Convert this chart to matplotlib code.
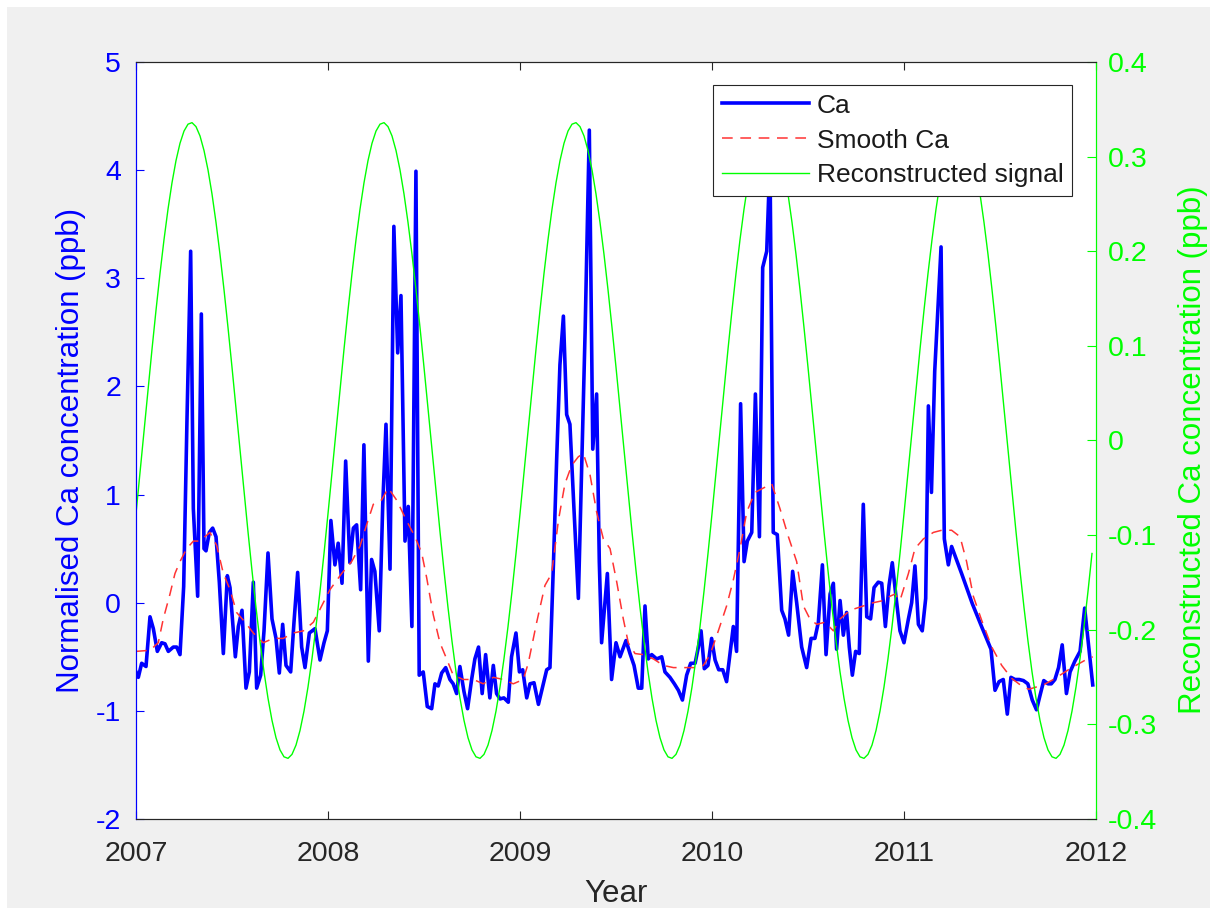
import numpy as np
import matplotlib
matplotlib.use('Agg')
import matplotlib.pyplot as plt
from matplotlib.patches import Rectangle

plt.rcParams['font.family'] = ['Liberation Sans', 'DejaVu Sans']
plt.rcParams['axes.unicode_minus'] = False

# ---------------- data ----------------
# Ca: time in years since 2007-01-01, normalised concentration (ppb)
ca_t = [0.0000, 0.0121, 0.0295, 0.0521, 0.0729, 0.0903, 0.1111, 0.1337, 0.1510, 0.1684,
        0.1944, 0.2118, 0.2292, 0.2483, 0.2656, 0.2847, 0.2986, 0.3212, 0.3403, 0.3542,
        0.3646, 0.3819, 0.3993, 0.4167, 0.4340, 0.4549, 0.4757, 0.4896, 0.5174, 0.5330,
        0.5521, 0.5729, 0.5903, 0.6111, 0.6285, 0.6493, 0.6667, 0.6875, 0.7083, 0.7292,
        0.7465, 0.7639, 0.7813, 0.8056, 0.8229, 0.8420, 0.8628, 0.8802, 0.9028, 0.9323,
        0.9583, 0.9792, 0.9965,
        1.015, 1.036, 1.053, 1.073, 1.092, 1.114, 1.132, 1.149, 1.170, 1.187,
        1.210, 1.227, 1.244, 1.267, 1.285, 1.302, 1.323, 1.343, 1.363, 1.380,
        1.401, 1.418, 1.437, 1.458, 1.475, 1.496, 1.517, 1.540, 1.557, 1.574,
        1.592, 1.613, 1.635, 1.652, 1.670, 1.687, 1.708, 1.727, 1.748, 1.765,
        1.784, 1.803, 1.821, 1.843, 1.861, 1.878, 1.896, 1.916, 1.939,
        1.956, 1.979, 1.997, 2.014, 2.035, 2.052, 2.073, 2.096, 2.116, 2.139,
        2.156, 2.174, 2.191, 2.208, 2.226, 2.243, 2.260, 2.281, 2.304, 2.321,
        2.339, 2.361, 2.379, 2.399, 2.413, 2.425, 2.455, 2.477, 2.500, 2.521,
        2.552, 2.573, 2.594, 2.616, 2.634, 2.651, 2.668, 2.686, 2.712, 2.738,
        2.755, 2.781, 2.804, 2.825, 2.846, 2.868, 2.889, 2.912, 2.929,
        2.943, 2.960, 2.979, 2.998, 3.016, 3.035, 3.056, 3.076, 3.094, 3.111,
        3.128, 3.149, 3.167, 3.184, 3.207, 3.226, 3.247, 3.264, 3.285, 3.302,
        3.319, 3.340, 3.363, 3.380, 3.399, 3.420, 3.441, 3.467, 3.493, 3.516,
        3.536, 3.554, 3.575, 3.594, 3.615, 3.632, 3.649, 3.667, 3.684, 3.701,
        3.715, 3.731, 3.748, 3.767, 3.788, 3.806, 3.826, 3.844, 3.866, 3.884,
        3.903, 3.922, 3.939, 3.958, 3.979, 4.000, 4.023, 4.040, 4.057, 4.075,
        4.095, 4.113, 4.127, 4.143, 4.160, 4.193, 4.210, 4.231, 4.248, 4.300,
        4.356, 4.404, 4.453, 4.474, 4.495, 4.517, 4.538, 4.557, 4.578, 4.600,
        4.622, 4.645, 4.668, 4.690, 4.708, 4.728, 4.750, 4.767, 4.786, 4.805,
        4.824, 4.846, 4.865, 4.890, 4.917, 4.941, 4.983]
ca_vals = [-0.64, -0.69, -0.56, -0.59, -0.13, -0.24, -0.45, -0.37, -0.38, -0.45,
           -0.41, -0.41, -0.48, 0.15, 1.70, 3.25, 0.87, 0.06, 2.67, 0.50,
           0.48, 0.65, 0.69, 0.61, 0.19, -0.47, 0.25, 0.14, -0.50, -0.22,
           -0.07, -0.79, -0.64, 0.19, -0.79, -0.67, -0.26, 0.46, -0.15, -0.33,
           -0.65, -0.20, -0.58, -0.64, -0.18, 0.28, -0.41, -0.60, -0.28, -0.24,
           -0.53, -0.37, -0.26,
           0.76, 0.35, 0.55, 0.18, 1.31, 0.37, 0.69, 0.72, 0.12, 1.46,
           -0.54, 0.40, 0.29, -0.26, 0.90, 1.65, 0.31, 3.48, 2.31, 2.84,
           0.57, 0.89, -0.22, 3.99, -0.67, -0.64, -0.96, -0.98, -0.75, -0.77,
           -0.65, -0.60, -0.71, -0.75, -0.84, -0.59, -0.82, -0.98, -0.71, -0.52,
           -0.41, -0.84, -0.48, -0.88, -0.58, -0.84, -0.89, -0.88, -0.92,
           -0.50, -0.28, -0.64, -0.62, -0.88, -0.75, -0.74, -0.94, -0.79, -0.62,
           -0.60, 0.35, 1.33, 2.20, 2.65, 1.74, 1.65, 0.87, 0.04, 1.25,
           2.50, 4.37, 1.42, 1.93, 0.38, -0.37, 0.27, -0.71, -0.37, -0.50,
           -0.35, -0.47, -0.58, -0.79, -0.79, -0.03, -0.52, -0.48, -0.52, -0.50,
           -0.64, -0.69, -0.75, -0.81, -0.90, -0.67, -0.56, -0.56, -0.41,
           -0.26, -0.61, -0.58, -0.33, -0.53, -0.62, -0.62, -0.73, -0.47, -0.22,
           -0.45, 1.84, 0.38, 0.57, 0.65, 1.93, 0.61, 3.10, 3.25, 4.10,
           0.65, 0.63, -0.07, -0.15, -0.30, 0.29, 0.00, -0.41, -0.60, -0.33,
           -0.33, -0.18, 0.35, -0.48, 0.08, 0.18, -0.43, 0.02, -0.30, -0.09,
           -0.41, -0.67, -0.45, -0.47, 0.91, -0.13, -0.15, 0.14, 0.19, 0.18,
           -0.22, 0.16, 0.37, 0.06, -0.26, -0.37, -0.15, 0.00, 0.34, -0.20,
           -0.26, 0.04, 1.82, 1.02, 2.14, 3.29, 0.59, 0.35, 0.52, 0.27,
           -0.01, -0.22, -0.43, -0.81, -0.73, -0.71, -1.03, -0.69, -0.71, -0.71,
           -0.72, -0.75, -0.90, -0.99, -0.86, -0.72, -0.75, -0.75, -0.71, -0.60,
           -0.39, -0.84, -0.64, -0.54, -0.45, -0.05, -0.76]

# Smoothed Ca (same units)
smooth_t = [0.000, 0.073, 0.116, 0.142, 0.177, 0.203, 0.229, 0.264, 0.299, 0.333,
            0.385, 0.420, 0.455, 0.490, 0.524, 0.568, 0.611, 0.663, 0.715, 0.767,
            0.819, 0.872, 0.924, 0.967, 1.010, 1.071, 1.123, 1.166, 1.201, 1.236,
            1.279, 1.314, 1.357, 1.409, 1.453, 1.488, 1.514, 1.548, 1.583, 1.618,
            1.652, 1.705, 1.757, 1.809, 1.861, 1.913, 1.965, 2.017, 2.043, 2.087,
            2.130, 2.165, 2.200, 2.234, 2.269, 2.304, 2.330, 2.365, 2.399, 2.434,
            2.469, 2.504, 2.538, 2.564, 2.599, 2.642, 2.695, 2.747, 2.799, 2.851,
            2.912, 2.955, 2.990, 3.033, 3.076, 3.111, 3.146, 3.181, 3.224, 3.267,
            3.311, 3.354, 3.398, 3.441, 3.476, 3.510, 3.545, 3.589, 3.632, 3.667,
            3.719, 3.788, 3.840, 3.892, 3.927, 3.953, 3.979, 4.023, 4.057, 4.101,
            4.153, 4.196, 4.248, 4.292, 4.326, 4.361, 4.404, 4.457, 4.509, 4.561,
            4.613, 4.650, 4.726, 4.778, 4.865, 4.955, 4.983]
smooth_vals = [-0.45, -0.44, -0.37, -0.15, 0.08, 0.27, 0.38, 0.50, 0.57, 0.57,
               0.65, 0.53, 0.27, 0.12, -0.09, -0.18, -0.28, -0.37, -0.33, -0.33,
               -0.28, -0.26, -0.18, -0.03, 0.12, 0.27, 0.38, 0.52, 0.72, 0.91,
               0.95, 1.06, 0.95, 0.76, 0.61, 0.46, 0.23, -0.11, -0.37, -0.52,
               -0.67, -0.71, -0.71, -0.75, -0.69, -0.71, -0.75, -0.71, -0.56, -0.18,
               0.16, 0.27, 0.76, 1.10, 1.27, 1.35, 1.38, 1.18, 0.84, 0.59,
               0.50, 0.19, -0.15, -0.37, -0.47, -0.48, -0.52, -0.58, -0.60, -0.60,
               -0.60, -0.58, -0.48, -0.26, -0.03, 0.21, 0.50, 0.84, 1.02, 1.06,
               1.10, 0.87, 0.61, 0.38, -0.03, -0.15, -0.20, -0.18, -0.26, -0.15,
               -0.07, -0.03, 0.00, 0.02, 0.06, 0.08, 0.02, 0.27, 0.50, 0.59,
               0.65, 0.67, 0.67, 0.61, 0.38, 0.06, -0.16, -0.41, -0.58, -0.70,
               -0.77, -0.80, -0.76, -0.71, -0.61, -0.52, -0.50]

# Reconstructed signal (right axis), one value every 1/48 year from 2007.0
recon_step = 1 / 48
recon_vals = [
    -0.0774, -0.0341, 0.0098, 0.0536, 0.0964, 0.1376, 0.1765, 0.2122, 0.2444, 0.2724, 0.2958, 0.3141,
    0.3270, 0.3343, 0.3359, 0.3317, 0.3219, 0.3065, 0.2860, 0.2605, 0.2305, 0.1967, 0.1594, 0.1194,
    0.0774, 0.0341, -0.0098, -0.0536, -0.0964, -0.1376, -0.1765, -0.2122, -0.2444, -0.2724, -0.2958, -0.3141,
    -0.3270, -0.3343, -0.3359, -0.3317, -0.3219, -0.3065, -0.2860, -0.2605, -0.2305, -0.1967, -0.1594, -0.1194,
    -0.0774, -0.0341, 0.0098, 0.0536, 0.0964, 0.1376, 0.1765, 0.2122, 0.2444, 0.2724, 0.2958, 0.3141,
    0.3270, 0.3343, 0.3359, 0.3317, 0.3219, 0.3065, 0.2860, 0.2605, 0.2305, 0.1967, 0.1594, 0.1194,
    0.0774, 0.0341, -0.0098, -0.0536, -0.0964, -0.1376, -0.1765, -0.2122, -0.2444, -0.2724, -0.2958, -0.3141,
    -0.3270, -0.3343, -0.3359, -0.3317, -0.3219, -0.3065, -0.2860, -0.2605, -0.2305, -0.1967, -0.1594, -0.1194,
    -0.0774, -0.0341, 0.0098, 0.0536, 0.0964, 0.1376, 0.1765, 0.2122, 0.2444, 0.2724, 0.2958, 0.3141,
    0.3270, 0.3343, 0.3359, 0.3317, 0.3219, 0.3065, 0.2860, 0.2605, 0.2305, 0.1967, 0.1594, 0.1194,
    0.0774, 0.0341, -0.0098, -0.0536, -0.0964, -0.1376, -0.1765, -0.2122, -0.2444, -0.2724, -0.2958, -0.3141,
    -0.3270, -0.3343, -0.3359, -0.3317, -0.3219, -0.3065, -0.2860, -0.2605, -0.2305, -0.1967, -0.1594, -0.1194,
    -0.0774, -0.0341, 0.0098, 0.0536, 0.0964, 0.1376, 0.1765, 0.2122, 0.2444, 0.2724, 0.2958, 0.3141,
    0.3270, 0.3343, 0.3359, 0.3317, 0.3219, 0.3065, 0.2860, 0.2605, 0.2305, 0.1967, 0.1594, 0.1194,
    0.0774, 0.0341, -0.0098, -0.0536, -0.0964, -0.1376, -0.1765, -0.2122, -0.2444, -0.2724, -0.2958, -0.3141,
    -0.3270, -0.3343, -0.3359, -0.3317, -0.3219, -0.3065, -0.2860, -0.2605, -0.2305, -0.1967, -0.1594, -0.1194,
    -0.0774, -0.0341, 0.0098, 0.0536, 0.0964, 0.1376, 0.1765, 0.2122, 0.2444, 0.2724, 0.2958, 0.3141,
    0.3270, 0.3343, 0.3359, 0.3317, 0.3219, 0.3065, 0.2860, 0.2605, 0.2305, 0.1967, 0.1594, 0.1194,
    0.0774, 0.0341, -0.0098, -0.0536, -0.0964, -0.1376, -0.1765, -0.2122, -0.2444, -0.2724, -0.2958, -0.3141,
    -0.3270, -0.3343, -0.3359, -0.3317, -0.3219, -0.3065, -0.2860, -0.2605, -0.2305, -0.1967, -0.1594, -0.1194,
]

x_ticks = [2007, 2008, 2009, 2010, 2011, 2012]
left_ticks = [-2, -1, 0, 1, 2, 3, 4, 5]
right_ticks = [-0.4, -0.3, -0.2, -0.1, 0, 0.1, 0.2, 0.3, 0.4]
series_labels = ['Ca', 'Smooth Ca', 'Reconstructed signal']

# ---------------- figure ----------------
W, H = 1210, 908
fig = plt.figure(figsize=(W / 100, H / 100), dpi=100, facecolor='white')
fig.patches.append(Rectangle((7 / W, 0), 1, 1 - 7 / H, transform=fig.transFigure,
                             facecolor='#f0f0f0', edgecolor='none', zorder=-10))

ax = fig.add_axes([136 / W, 1 - 819 / H, 960 / W, 757 / H])
ax2 = ax.twinx()

BLUE = '#0000ff'
GREEN = '#00ff00'
RED = '#ff3333'
DARK = '#262626'

ca_x = 2007 + np.array(ca_t)
smooth_x = 2007 + np.array(smooth_t)
recon_x = 2007 + np.arange(len(recon_vals)) * recon_step

l1, = ax.plot(ca_x, ca_vals, color=BLUE, lw=2.6, zorder=3)
l2, = ax.plot(smooth_x, smooth_vals, color=RED, lw=1.1, dashes=(7, 5), zorder=4)
l3, = ax2.plot(recon_x, recon_vals, color=GREEN, lw=1.0)

ax.set_xlim(2007, 2012)
ax.set_ylim(-2, 5)
ax2.set_ylim(-0.4, 0.4)

ax.set_xticks(x_ticks)
ax.set_xticklabels([str(v) for v in x_ticks])
ax.set_yticks(left_ticks)
ax.set_yticklabels([str(v) for v in left_ticks])
ax2.set_yticks(right_ticks)
ax2.set_yticklabels(['%g' % v for v in right_ticks])

ax.tick_params(axis='x', direction='in', top=True, bottom=True, length=6, width=0.8,
               colors=DARK, labelsize=20.5, pad=16)
ax.tick_params(axis='y', direction='in', left=True, right=False, length=6, width=0.8,
               colors=BLUE, labelsize=20.5, pad=10.8)
ax2.tick_params(axis='y', direction='in', left=False, right=True, length=6.5, width=0.8,
                colors=GREEN, labelsize=20.5, pad=8.6)

for a in (ax, ax2):
    a.spines['left'].set_color(BLUE)
    a.spines['right'].set_color(GREEN)
    a.spines['top'].set_color(DARK)
    a.spines['bottom'].set_color(DARK)
    for s in a.spines.values():
        s.set_linewidth(0.8)

ax.set_xlabel('Year', fontsize=22.5, color=DARK)
ax.xaxis.label.set_va('top')
ax.xaxis.set_label_coords(0.5, (819 - 879) / 757)

ax.set_ylabel('Normalised Ca concentration (ppb)', fontsize=22.5, color=BLUE)
ax.yaxis.label.set_va('center')
ax.yaxis.set_label_coords((71 - 136) / 960, 0.4875)

ax2.set_ylabel('Reconstructed Ca concentration (ppb)', fontsize=22.5, color=GREEN,
               rotation=90)
ax2.yaxis.label.set_va('center')
ax2.yaxis.label.set_ha('center')
ax2.yaxis.set_label_coords((1193 - 136) / 960, 0.4875)

leg = ax2.legend([l1, l2, l3], series_labels, loc='upper right',
                 bbox_to_anchor=((1072 - 136) / 960, (819 - 85) / 757),
                 borderaxespad=0, fontsize=19, fancybox=False, framealpha=1,
                 edgecolor=DARK, handlelength=3.3, handletextpad=0.3,
                 borderpad=0.33, labelspacing=0.41, labelcolor='#1a1a1a')
leg.get_frame().set_linewidth(0.8)

fig.savefig('out.png', dpi=100, facecolor=fig.get_facecolor())
